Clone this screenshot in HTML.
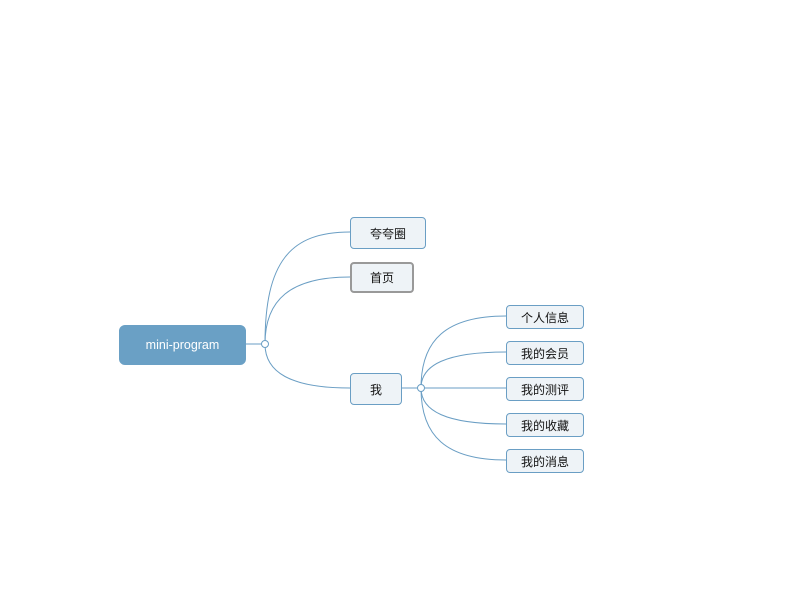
<!DOCTYPE html>
<html><head><meta charset="utf-8"><style>
body{margin:0;width:799px;height:591px;background:#fff;overflow:hidden;position:relative;font-family:"Liberation Sans","Noto Sans CJK SC",sans-serif}
.n{position:absolute;box-sizing:border-box;background:#eef3f7;border:1px solid #6a9ec4;border-radius:4px;display:flex;align-items:center;justify-content:center;font-size:12px;color:#111}
</style></head><body>
<svg width="799" height="591" style="position:absolute;left:0;top:0" fill="none" stroke="#6a9ec4" stroke-width="1">
<path d="M245,344H262"/>
<path d="M265,344C265,262 290,232 350,232"/>
<path d="M265,344C265,300 290,277 350,277"/>
<path d="M265,344C265,372 290,388 350,388"/>
<path d="M401,388H418"/>
<path d="M421,388C421,340 446,316 506,316"/>
<path d="M421,388C421,365 446,352 506,352"/>
<path d="M424,388H506"/>
<path d="M421,388C421,411 446,424 506,424"/>
<path d="M421,388C421,436 446,460 506,460"/>
<circle cx="265" cy="344" r="3.5" fill="#fff"/>
<circle cx="421" cy="388" r="3.5" fill="#fff"/>
</svg>
<div class="n" style="left:119px;top:325px;width:127px;height:40px;background:#6aa0c5;border-color:#6aa0c5;color:#fff;border-radius:6px;font-size:12.5px">mini-program</div>
<div class="n" style="left:350px;top:217px;width:76px;height:32px">夸夸圈</div>
<div class="n" style="left:350px;top:262px;width:64px;height:31px;border:2px solid #999">首页</div>
<div class="n" style="left:350px;top:373px;width:52px;height:32px">我</div>
<div class="n" style="left:506px;top:305px;width:78px;height:24px">个人信息</div>
<div class="n" style="left:506px;top:341px;width:78px;height:24px">我的会员</div>
<div class="n" style="left:506px;top:377px;width:78px;height:24px">我的测评</div>
<div class="n" style="left:506px;top:413px;width:78px;height:24px">我的收藏</div>
<div class="n" style="left:506px;top:449px;width:78px;height:24px">我的消息</div>
</body></html>
